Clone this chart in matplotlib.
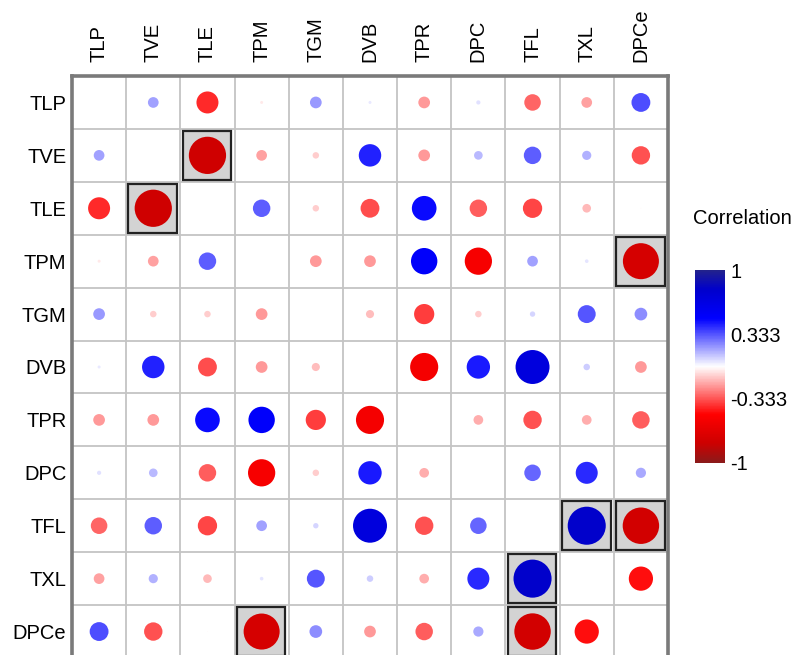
import numpy as np
import matplotlib
matplotlib.use('Agg')
import matplotlib.pyplot as plt
from matplotlib.colors import LinearSegmentedColormap, Normalize
from matplotlib.patches import Rectangle
import matplotlib.colorbar as mcolorbar

plt.rcParams['font.family'] = ['Liberation Sans', 'DejaVu Sans']

names = ['TLP', 'TVE', 'TLE', 'TPM', 'TGM', 'DVB', 'TPR', 'DPC', 'TFL', 'TXL', 'DPCe']

# lower triangle of the correlation matrix, one list per row (columns in names order)
r_tve = [0.18]
r_tle = [-0.42, -0.78]
r_tpm = [-0.04, -0.18, 0.32]
r_tgm = [0.20, -0.10, -0.10, -0.20]
r_dvb = [0.04, 0.43, -0.35, -0.20, -0.13]
r_tpr = [-0.20, -0.20, 0.48, 0.52, -0.38, -0.56]
r_dpc = [0.06, 0.14, -0.32, -0.54, -0.10, 0.45, -0.16]
r_tfl = [-0.30, 0.32, -0.36, 0.18, 0.08, 0.70, -0.34, 0.30]
r_txl = [-0.18, 0.15, -0.14, 0.05, 0.33, 0.10, -0.16, 0.42, 0.80]
r_dpce = [0.35, -0.34, -0.01, -0.75, 0.22, -0.20, -0.32, 0.17, -0.76, -0.47]

# highlighted (significant) pairs
sig_pairs = [('TVE', 'TLE'), ('TPM', 'DPCe'), ('TFL', 'TXL'), ('TFL', 'DPCe')]

cbar_ticks = [-1, -0.333, 0.333, 1]
cbar_labels = ['-1', '-0.333', '0.333', '1']

n = len(names)
rows = [[], r_tve, r_tle, r_tpm, r_tgm, r_dvb, r_tpr, r_dpc, r_tfl, r_txl, r_dpce]
corr = np.zeros((n, n))
for i, row in enumerate(rows):
    for j, v in enumerate(row):
        corr[i, j] = v
        corr[j, i] = v

cmap = LinearSegmentedColormap.from_list('corr', [
    (0.0, '#8b1a1a'), (0.1, '#cc0000'), (0.25, '#ff0000'), (0.5, '#ffffff'),
    (0.75, '#0000ff'), (0.9, '#0000cc'), (1.0, '#22228c')])
norm = Normalize(-1, 1)

fig = plt.figure(figsize=(7.93, 6.55), dpi=100)
ax = fig.add_axes([72 / 793, -3 / 655, 596 / 793, 582 / 655])

# highlight boxes
for a, b in sig_pairs:
    i, j = names.index(a), names.index(b)
    for (ri, cj) in [(i, j), (j, i)]:
        ax.add_patch(Rectangle((cj - 0.46, ri - 0.46), 0.9, 0.92, facecolor='#d3d3d3',
                               edgecolor='#222222', lw=1.6, zorder=2))

xs, ys, vals = [], [], []
for i in range(n):
    for j in range(n):
        if i != j:
            xs.append(j)
            ys.append(i)
            vals.append(corr[i, j])
vals = np.array(vals)
diam_px = 46 * np.abs(vals) ** 0.85
sizes = (diam_px * 0.72) ** 2
ax.scatter(xs, ys, s=sizes, c=vals, cmap=cmap, norm=norm, linewidths=0, zorder=3)

ax.set_xlim(-0.5, n - 0.5)
ax.set_ylim(n - 0.5, -0.5)
ax.set_xticks(range(n))
ax.set_yticks(range(n))
ax.set_xticklabels(names, rotation=90, fontsize=14.5)
ax.set_yticklabels(names, fontsize=14.5)
ax.xaxis.tick_top()
ax.tick_params(axis='both', which='major', length=0)
ax.tick_params(axis='x', pad=10)
ax.tick_params(axis='y', pad=4)
ax.set_xticks(np.arange(n + 1) - 0.5, minor=True)
ax.set_yticks(np.arange(n + 1) - 0.5, minor=True)
ax.tick_params(which='minor', length=0)
ax.grid(which='minor', color='#c4c4c4', lw=1.3)
ax.set_axisbelow(True)
for s in ax.spines.values():
    s.set_color('#7a7a7a')
    s.set_linewidth(2.6)

cax = fig.add_axes([695 / 793, 1 - 463 / 655, 30 / 793, 193 / 655])
cb = mcolorbar.ColorbarBase(cax, cmap=cmap, norm=norm, ticks=cbar_ticks)
cb.set_ticklabels(cbar_labels)
cb.outline.set_visible(False)
cax.tick_params(length=0, labelsize=14.5, pad=4)
fig.text(693 / 793, 1 - 218 / 655, 'Correlation', fontsize=14.5, va='center', ha='left')

fig.savefig('out.png', dpi=100)
